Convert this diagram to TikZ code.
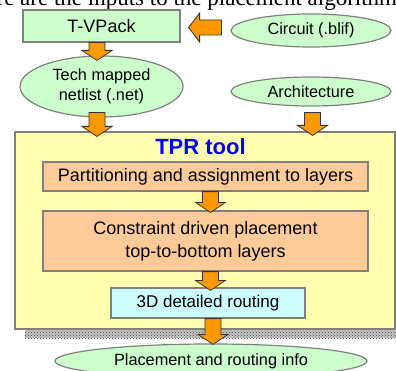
\documentclass[tikz,border=0pt]{standalone}
\usepackage{fontspec}
\setmainfont{Liberation Sans}
\newfontfamily\cutfont{Liberation Serif}
\usetikzlibrary{positioning, calc, shapes.geometric, patterns}
\usepackage{xcolor}

\definecolor{inputgreen}{HTML}{CCFFCC}
\definecolor{toolyellow}{HTML}{FFFFB0}
\definecolor{stagepeach}{HTML}{FFCC99}
\definecolor{routecyan}{HTML}{CCFFFF}
\definecolor{arroworange}{HTML}{FF9900}
\definecolor{edgegray}{HTML}{808080}

% fat block arrows between two points
\newcommand{\fatdown}[2]{%
  \draw[blockarrow] let \p1=(#1), \p2=(#2) in
    (\x1-8pt,\y1) -- (\x1+8pt,\y1) -- (\x1+8pt,\y2+10pt) -- (\x1+15pt,\y2+10pt)
    -- (\x1,\y2) -- (\x1-15pt,\y2+10pt) -- (\x1-8pt,\y2+10pt) -- cycle;}
\newcommand{\fatleft}[2]{%
  \draw[blockarrow] let \p1=(#1), \p2=(#2) in
    (\x1,\y1-7.5pt) -- (\x1,\y1+7.5pt) -- (\x2+11pt,\y1+7.5pt) -- (\x2+11pt,\y1+14.5pt)
    -- (\x2,\y1) -- (\x2+11pt,\y1-14.5pt) -- (\x2+11pt,\y1-7.5pt) -- cycle;}

\begin{document}
\begin{tikzpicture}[
        x=1pt, y=1pt,
        inputnode/.style={ellipse, draw=edgegray, line width=1.2pt, fill=inputgreen, inner sep=0pt, align=center, font=\fontsize{16.3}{20}\selectfont},
        packbox/.style={rectangle, draw=edgegray, line width=1.2pt, fill=inputgreen, inner sep=0pt, font=\fontsize{18}{22}\selectfont},
        stagebox/.style={rectangle, draw=edgegray, line width=1.2pt, fill=stagepeach, inner sep=0pt, align=center, font=\fontsize{18}{23}\selectfont},
        blockarrow/.style={draw=black!80, line width=0.8pt, fill=arroworange, line join=miter}
    ]
        \useasboundingbox (0,0) rectangle (396,370);
        \clip (0,0) rectangle (396,370);

        % Cut-off caption line
        \node (caption) [anchor=base west, inner sep=0pt, font=\cutfont\fontsize{23}{27}\selectfont] at (-30.4,364.5) {Here are the inputs to the placement algorithm};

        % Inputs
        \node (tvpack) [packbox, minimum width=157, minimum height=32] at (101.5,344) {T-VPack};
        \node (circuit) [inputnode, minimum width=160, minimum height=33] at (311,339.5) {Circuit (.blif)};
        \node (netlist) [inputnode, minimum width=163, minimum height=61] at (101.5,283.5) {Tech mapped\\netlist (.net)};
        \node (arch) [inputnode, minimum width=160, minimum height=29] at (311,278.5) {Architecture};

        % TPR tool with its shadow
        \fill[gray!45] (25,32) rectangle (405,229);
        \fill[pattern=crosshatch dots, pattern color=black!75] (25,32) rectangle (405,229);
        \node (tpr) [rectangle, draw=edgegray, line width=1.2pt, fill=toolyellow, minimum width=380, minimum height=197, inner sep=0pt] at (205,139.5) {};
        \node (tprtitle) [font=\bfseries\fontsize{22}{26}\selectfont, text=blue] at (200.5,223) {TPR tool};
        \node (partition) [stagebox, minimum width=325, minimum height=29] at (205.5,193.5) {Partitioning and assignment to layers};
        \node (placement) [stagebox, minimum width=325, minimum height=60] at (205.5,129) {Constraint driven placement\\top-to-bottom layers};
        \node (routing) [stagebox, fill=routecyan, font=\fontsize{17}{21}\selectfont, minimum width=194, minimum height=30] at (208,67) {3D detailed routing};

        % Output
        \node (result) [inputnode, minimum width=312, minimum height=34] at (211,9) {Placement and routing info};

        % Arrows
        \fatleft{$(circuit.west |- tvpack.east)+(-9,-1.5)$}{$(tvpack.east)+(8,0)$}
        \fatdown{$(tvpack.south)+(-4.5,0)$}{$(netlist.north)+(-4.5,-5)$}
        \fatdown{$(netlist.south)+(-4.5,5)$}{$(tpr.north -| netlist.south)+(-4.5,-5)$}
        \fatdown{$(arch.south)+(1.5,-6)$}{$(tpr.north -| arch.south)+(1.5,-4)$}
        \fatdown{$(partition.south)+(5,0)$}{$(placement.north)+(5,-2)$}
        \fatdown{$(placement.south)+(5,0)$}{$(routing.north)+(5,-3)$}
        \fatdown{$(routing.south)+(5,0)$}{$(result.north)+(5,-1)$}
    \end{tikzpicture}
\end{document}
